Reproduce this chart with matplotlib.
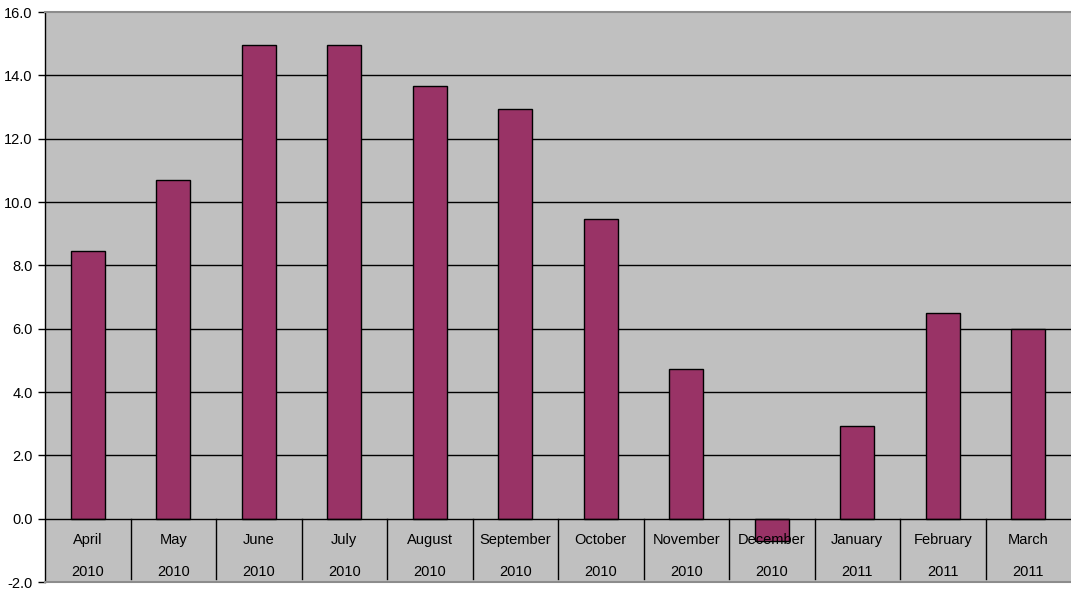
import matplotlib.pyplot as plt
import numpy as np

# monthly values, April 2010 - March 2011
months = ["April", "May", "June", "July", "August", "September", "October",
          "November", "December", "January", "February", "March"]
years = ["2010"] * 9 + ["2011"] * 3
values = [8.45, 10.7, 14.97, 14.97, 13.67, 12.93, 9.45, 4.72, -0.7, 2.92, 6.5, 5.98]
yticks = [-2.0, 0.0, 2.0, 4.0, 6.0, 8.0, 10.0, 12.0, 14.0, 16.0]

plt.rcParams["font.family"] = ["Liberation Sans", "DejaVu Sans"]

fig = plt.figure(figsize=(10.71, 5.94), dpi=100)
ax = fig.add_axes([45 / 1071, 12 / 594, 1026 / 1071, 570 / 594])
ax.set_facecolor("#c0c0c0")

x = np.arange(len(months))
ax.set_xlim(-0.5, len(months) - 0.5)
ax.set_ylim(-2, 16)

# gridlines under the bars
for t in yticks[2:-1]:
    ax.axhline(t, color="#000000", lw=1.0, zorder=1)

ax.bar(x, values, width=0.4, color="#993366", edgecolor="#000000", lw=1.0, zorder=2)

# zero line and category dividers
ax.axhline(0, color="#000000", lw=1.0, zorder=3)
for i in range(len(months) - 1):
    ax.plot([i + 0.5, i + 0.5], [0, -1.9], color="#000000", lw=1.0, zorder=3)

for i, (m, yr) in enumerate(zip(months, years)):
    ax.text(i, -0.67, m, ha="center", va="center", fontsize=10.5, zorder=4)
    ax.text(i, -1.68, yr, ha="center", va="center", fontsize=10.5, zorder=4)

ax.set_yticks(yticks)
ax.set_yticklabels([f"{t:.1f}" for t in yticks], fontsize=10.5)
ax.set_xticks([])
ax.tick_params(axis="y", direction="out", length=5, width=1, color="#000000", pad=4)

for side in ["top", "bottom"]:
    ax.spines[side].set_color("#8c8c8c")
    ax.spines[side].set_linewidth(1.5)
ax.spines["right"].set_visible(False)
ax.spines["left"].set_color("#000000")
ax.spines["left"].set_linewidth(1.0)

fig.savefig("out.png", dpi=100)
